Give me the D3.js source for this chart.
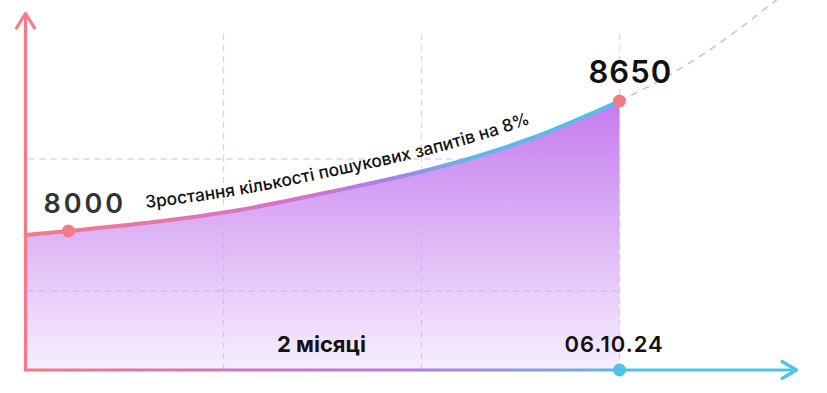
<!DOCTYPE html>
<html><head><meta charset="utf-8">
<script src="https://cdn.jsdelivr.net/npm/d3@7"></script>
<style>html,body{margin:0;padding:0;background:#fff;}svg{display:block;}</style>
</head><body><svg id="c" width="827" height="393"></svg>
<script>
// ---- data ----
const periods = [0, 0.217, 0.626, 1.08, 1.535, 2.09, 2.545, 3];
const queries = [7980, 8000, 8042, 8105, 8195, 8320, 8460, 8650];
const projPeriods = [3, 3.27, 3.57, 3.76, 3.95];
const projQueries = [8650, 8790, 8985, 9130, 9270];
const gridPeriods = [1, 2, 3];
const gridValues = [7700, 8360];
const markedPeriods = [0.217, 3];
const markedValues = [8000, 8650];
const startLabel = "8000";
const endLabel = "8650";
const curveLabel = "Зростання кількості пошукових запитів на 8%";
const spanLabel = "2 місяці";
const dateLabel = "06.10.24";

const svg = d3.select("#c");
const x = d3.scaleLinear().domain([0, 3]).range([25.5, 619.5]);
const y = d3.scaleLinear().domain([7305, 8650]).range([370, 101]);
const pink = "#F07C86", cyan = "#4FC3E6";
const font = "Inter, 'Open Sans', sans-serif";

const defs = svg.append("defs");
const ag = defs.append("linearGradient").attr("id","areaG").attr("gradientUnits","userSpaceOnUse")
  .attr("x1",0).attr("x2",0).attr("y1",100).attr("y2",370);
ag.append("stop").attr("offset",0).attr("stop-color","#C47AF0");
ag.append("stop").attr("offset",1).attr("stop-color","#F7EFFC");
const lg = defs.append("linearGradient").attr("id","lineG").attr("gradientUnits","userSpaceOnUse")
  .attr("x1",26).attr("x2",619).attr("y1",0).attr("y2",0);
[[0,"#F07C86"],[0.45,"#D672C8"],[0.62,"#A584E6"],[0.74,"#5FB5E6"],[1,"#4FC3E6"]]
  .forEach(([o,c])=>lg.append("stop").attr("offset",o).attr("stop-color",c));
const xg = defs.append("linearGradient").attr("id","axisG").attr("gradientUnits","userSpaceOnUse")
  .attr("x1",24).attr("x2",797).attr("y1",0).attr("y2",0);
[[0,"#F07C86"],[0.3,"#D075C8"],[0.5,"#B87AE0"],[0.7,"#7FA2EA"],[0.8,"#4FC3E6"],[1,"#4FC3E6"]]
  .forEach(([o,c])=>xg.append("stop").attr("offset",o).attr("stop-color",c));

const data = periods.map((p,i)=>({p, v: queries[i]}));
const proj = projPeriods.map((p,i)=>({p, v: projQueries[i]}));

// area
const area = d3.area().x(d=>x(d.p)).y0(y(7305)).y1(d=>y(d.v)).curve(d3.curveMonotoneX);
svg.append("path").datum(data).attr("d", area).attr("fill","url(#areaG)");

// grid
const gridColor = "rgba(195,170,235,0.55)";
svg.selectAll(".vg").data(gridPeriods).enter().append("line")
  .attr("x1",d=>x(d)).attr("x2",d=>x(d)).attr("y1",34).attr("y2",370)
  .attr("stroke",gridColor).attr("stroke-width",1.3).attr("stroke-dasharray","6 5");
svg.selectAll(".hg").data(gridValues).enter().append("line")
  .attr("x1",x(0)+3).attr("x2",x(3)).attr("y1",d=>y(d)).attr("y2",d=>y(d))
  .attr("stroke",gridColor).attr("stroke-width",1.3).attr("stroke-dasharray","6 5");

// projection dashed
const line = d3.line().x(d=>x(d.p)).y(d=>y(d.v)).curve(d3.curveMonotoneX);
svg.append("path").datum(proj).attr("d", line).attr("fill","none")
  .attr("stroke","rgba(190,170,230,0.8)").attr("stroke-width",1.5).attr("stroke-dasharray","7 6");

// axes
svg.append("line").attr("x1",x(0)).attr("x2",x(0)).attr("y1",14).attr("y2",371)
  .attr("stroke",pink).attr("stroke-width",3.2);
svg.append("path").attr("d",`M${x(0)-9},28 L${x(0)},13.5 L${x(0)+9},28`).attr("fill","none")
  .attr("stroke",pink).attr("stroke-width",3.2).attr("stroke-linecap","round").attr("stroke-linejoin","round");
svg.append("line").attr("x1",24).attr("x2",796).attr("y1",370).attr("y2",370)
  .attr("stroke","url(#axisG)").attr("stroke-width",3.2);
svg.append("path").attr("d",`M782,361.5 L796.5,370 L782,378.5`).attr("fill","none")
  .attr("stroke",cyan).attr("stroke-width",3.2).attr("stroke-linecap","round").attr("stroke-linejoin","round");

// main line
svg.append("path").datum(data).attr("d", line).attr("fill","none")
  .attr("stroke","url(#lineG)").attr("stroke-width",4).attr("stroke-linecap","round");

// curve label path (offset above line)
const labelLine = d3.line().x(d=>x(d.p)).y(d=>y(d.v)-15).curve(d3.curveMonotoneX);
defs.append("path").attr("id","lblPath").attr("d", labelLine(data));
svg.append("text").attr("font-family",font).attr("font-size",17.3).attr("font-weight",500).attr("fill","#111")
  .append("textPath").attr("href","#lblPath").attr("startOffset",121).text(curveLabel);

// dots
svg.selectAll(".dot").data(markedPeriods).enter().append("circle")
  .attr("cx",d=>x(d)).attr("cy",(d,i)=>y(markedValues[i])).attr("r",6.5).attr("fill",pink);
svg.append("circle").attr("cx",x(3)).attr("cy",y(7305)).attr("r",6.5).attr("fill",cyan);

// labels
svg.append("text").attr("x",x(markedPeriods[0])-25).attr("y",213).attr("font-family",font)
  .attr("font-size",27).attr("font-weight",600).attr("letter-spacing",3).attr("fill","#333").text(startLabel);
svg.append("text").attr("x",x(3)-31).attr("y",83).attr("font-family",font)
  .attr("font-size",31).attr("font-weight",600).attr("letter-spacing",1).attr("fill","#111").text(endLabel);
svg.append("text").attr("x",277).attr("y",352).attr("font-family",font)
  .attr("font-size",22).attr("font-weight",700).attr("fill","#111").text(spanLabel);
svg.append("text").attr("x",x(3)-55).attr("y",352).attr("font-family",font)
  .attr("font-size",22).attr("font-weight",600).attr("letter-spacing",1).attr("fill","#111").text(dateLabel);
</script></body></html>
